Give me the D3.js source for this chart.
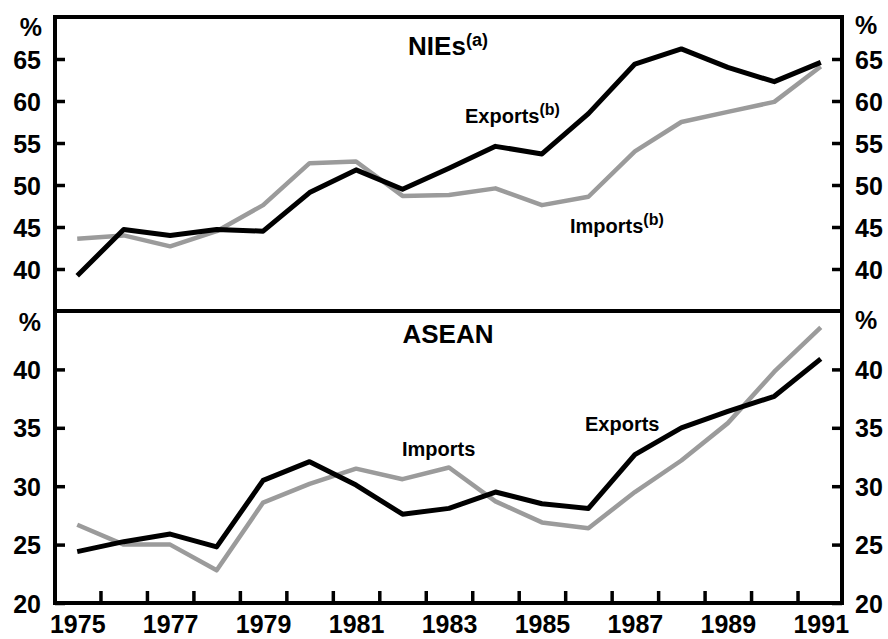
<!DOCTYPE html>
<html>
<head>
<meta charset="utf-8">
<script src="https://cdn.jsdelivr.net/npm/d3@7"></script>
<style>
  body { margin: 0; background: #fff; }
  svg text { font-family: "Liberation Sans", Arial, sans-serif; font-weight: bold; fill: #000; }
</style>
</head>
<body>
<div id="viz"></div>
<script>

// years on the x axis
var years = [1975, 1976, 1977, 1978, 1979, 1980, 1981, 1982, 1983,
             1984, 1985, 1986, 1987, 1988, 1989, 1990, 1991];
var yearLabels = [1975, 1977, 1979, 1981, 1983, 1985, 1987, 1989, 1991];

// NIEs panel
var niesExports = [39.2, 44.7, 44.0, 44.7, 44.5, 49.1, 51.8, 49.5, 52.0,
                   54.6, 53.7, 58.5, 64.4, 66.2, 64.0, 62.3, 64.6];
var niesImports = [43.6, 44.0, 42.7, 44.5, 47.6, 52.6, 52.8, 48.7, 48.8,
                   49.6, 47.6, 48.6, 54.0, 57.5, 58.7, 59.9, 64.1];
var niesTicks = [40, 45, 50, 55, 60, 65];

// ASEAN panel
var aseanExports = [24.4, 25.25, 25.9, 24.8, 30.5, 32.1, 30.1, 27.6, 28.1,
                    29.5, 28.5, 28.1, 32.7, 35.0, 36.4, 37.7, 40.9];
var aseanImports = [26.7, 25.0, 25.0, 22.8, 28.6, 30.2, 31.5, 30.6, 31.6,
                    28.7, 26.9, 26.4, 29.5, 32.2, 35.4, 39.8, 43.6];
var aseanTicks = [20, 25, 30, 35, 40];

var _left = 55, _right = 842, _top = 17, _mid = 311, _bottom = 603;
var _grey = "#9b9b9b";

var svg = d3.select("#viz")
    .append("svg")
    .attr("width", 888)
    .attr("height", 639);

var x = d3.scaleLinear()
    .domain([1974.5, 1991.5])
    .range([_left - 1, _right + 2]);

var yTop = d3.scaleLinear().domain([35, 70]).range([_mid, _top]);
var yBot = d3.scaleLinear().domain([20, 45]).range([_bottom, _mid]);

function drawPanel(y, ticks, exp, imp){
    var line = d3.line()
        .x(function(d, i){ return x(years[i]); })
        .y(function(d){ return y(d); });

    svg.append("path")
        .datum(imp)
        .attr("d", line)
        .style("fill", "none")
        .style("stroke", _grey)
        .style("stroke-width", 4.5)
        .style("stroke-linejoin", "round");

    svg.append("path")
        .datum(exp)
        .attr("d", line)
        .style("fill", "none")
        .style("stroke", "#000")
        .style("stroke-width", 5)
        .style("stroke-linejoin", "round");

    var left = svg.append("g")
        .attr("transform", "translate(" + _left + ",0)")
        .call(d3.axisLeft(y).tickValues(ticks).tickSize(-10).tickPadding(14));
    var right = svg.append("g")
        .attr("transform", "translate(" + _right + ",0)")
        .call(d3.axisRight(y).tickValues(ticks).tickSize(-10).tickPadding(13));

    [left, right].forEach(function(g){
        g.select(".domain").remove();
        g.selectAll("line").style("stroke", "#000").style("stroke-width", 3.5);
        g.selectAll("text")
            .style("font-size", "25px")
            .style("font-family", "'Liberation Sans', Arial, sans-serif")
            .style("font-weight", "bold")
            .attr("dy", "0.36em");
    });
}

drawPanel(yTop, niesTicks, niesExports, niesImports);
drawPanel(yBot, aseanTicks, aseanExports, aseanImports);

// x axis: ticks between years, labels on odd years
var xTicks = svg.append("g")
    .attr("transform", "translate(0," + _bottom + ")")
    .call(d3.axisBottom(x).tickValues(years.slice(0, -1).map(function(d){ return d + 0.5; }))
          .tickSize(-12).tickFormat(""));
xTicks.select(".domain").remove();
xTicks.selectAll("line").style("stroke", "#000").style("stroke-width", 3.5);

var xLabels = svg.append("g")
    .attr("transform", "translate(0," + _bottom + ")")
    .call(d3.axisBottom(x).tickValues(yearLabels).tickSize(0).tickPadding(12).tickFormat(d3.format("d")));
xLabels.select(".domain").remove();
xLabels.selectAll("text")
    .style("font-size", "25px")
    .style("font-family", "'Liberation Sans', Arial, sans-serif")
    .style("font-weight", "bold");

// frame
svg.append("rect")
    .attr("x", _left).attr("y", _top)
    .attr("width", _right - _left).attr("height", _bottom - _top)
    .style("fill", "none").style("stroke", "#000").style("stroke-width", 4);
svg.append("line")
    .attr("x1", _left).attr("x2", _right)
    .attr("y1", _mid).attr("y2", _mid)
    .style("stroke", "#000").style("stroke-width", 4);

// % units
function label(px, py, txt, size, anchor){
    return svg.append("text")
        .attr("x", px).attr("y", py)
        .attr("text-anchor", anchor || "start")
        .style("font-size", size + "px")
        .text(txt);
}
label(42, 36, "%", 25, "end");
label(855, 34, "%", 25);
label(41, 331, "%", 25, "end");
label(855, 329, "%", 25);

// panel titles
var t1 = label(448, 55, "NIEs", 26, "middle");
t1.append("tspan").attr("dy", -9).style("font-size", "18px").text("(a)");
label(448, 343, "ASEAN", 26, "middle");

// series labels
var e1 = label(465, 123, "Exports", 20);
e1.append("tspan").attr("dy", -8).style("font-size", "16px").text("(b)");
var i1 = label(570, 233, "Imports", 20);
i1.append("tspan").attr("dy", -8).style("font-size", "16px").text("(b)");
label(402, 456, "Imports", 20);
label(585, 431, "Exports", 20);

</script>
</body>
</html>
